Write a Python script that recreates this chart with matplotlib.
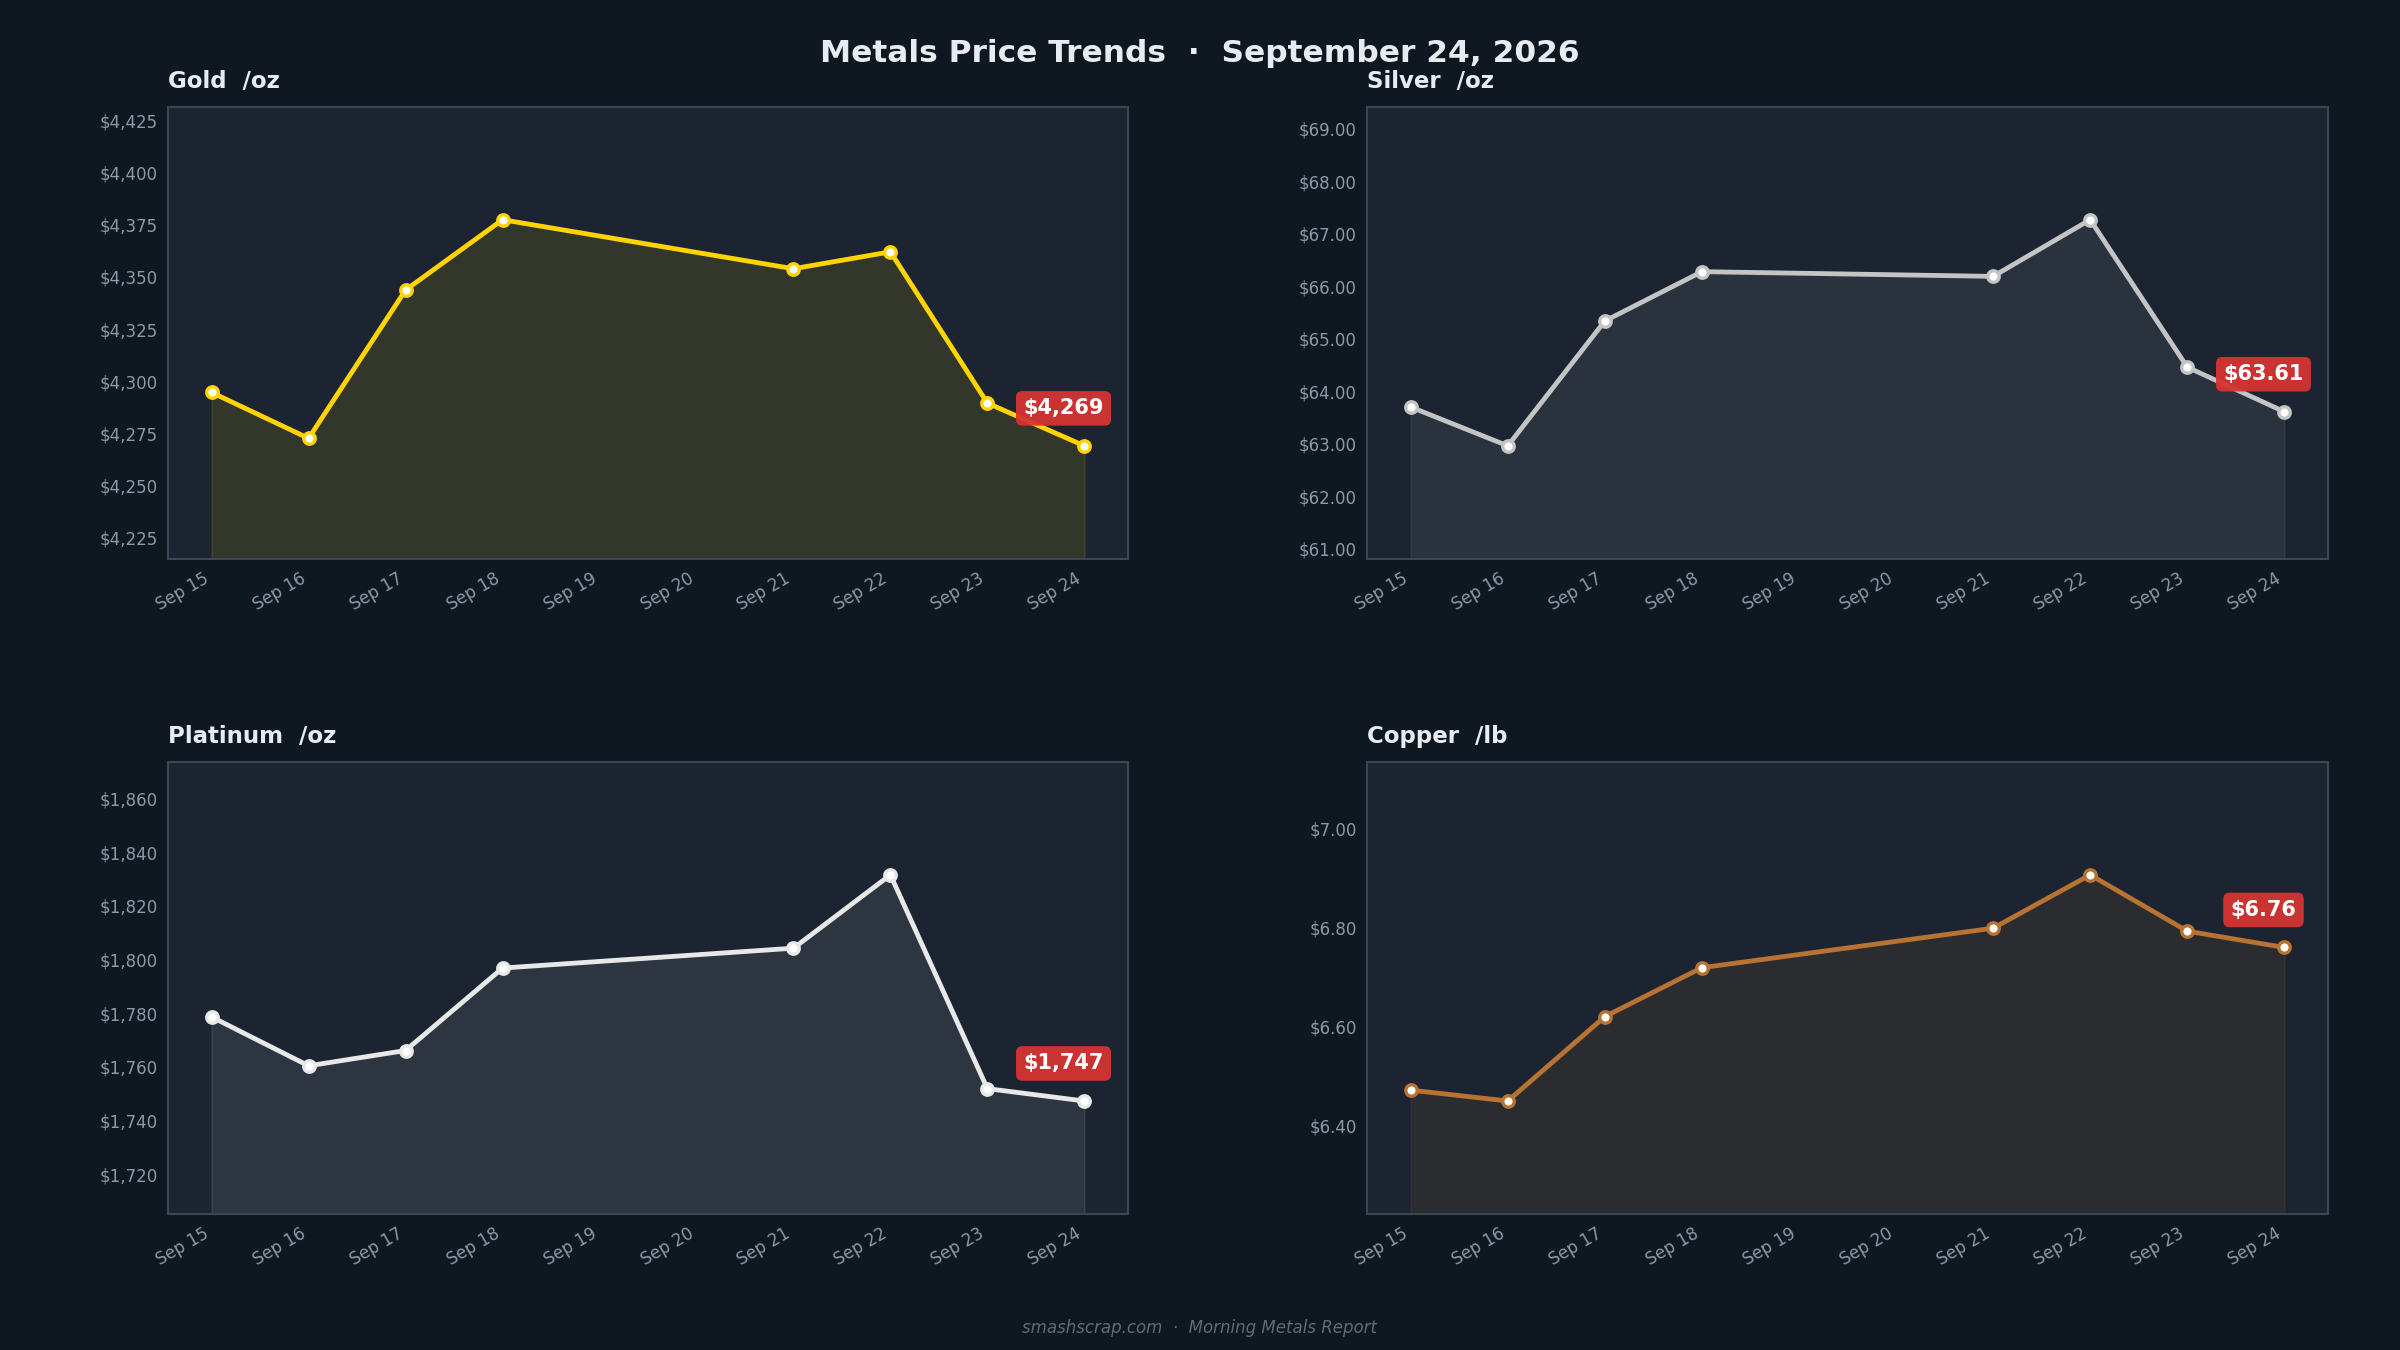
import datetime as dt

import matplotlib
matplotlib.use("Agg")
import matplotlib.pyplot as plt
import matplotlib.dates as mdates
from matplotlib.ticker import FuncFormatter

# trading days (weekend skipped)
dates = [dt.datetime(2026, 9, d) for d in (15, 16, 17, 18, 21, 22, 23, 24)]

gold = [4294.6, 4272.6, 4343.7, 4377.4, 4353.9, 4362.0, 4289.5, 4269.0]
silver = [63.70, 62.96, 65.34, 66.28, 66.19, 67.27, 64.46, 63.61]
platinum = [1778.6, 1760.4, 1766.1, 1796.8, 1804.2, 1831.5, 1751.9, 1747.3]
copper = [6.471, 6.449, 6.620, 6.719, 6.799, 6.907, 6.793, 6.76]

names = ["Gold  /oz", "Silver  /oz", "Platinum  /oz", "Copper  /lb"]
series = [gold, silver, platinum, copper]
line_colors = ["#FFD400", "#C4C4C4", "#E8E8E8", "#B87333"]
fill_alpha = [0.105, 0.09, 0.09, 0.10]
fmt_axis = ["${:,.0f}", "${:,.2f}", "${:,.0f}", "${:,.2f}"]
fmt_badge = ["${:,.0f}", "${:,.2f}", "${:,.0f}", "${:,.2f}"]

BG = "#0f1720"
PANEL = "#1b2430"
SPINE = "#3a4654"
TICK = "#8d99a6"
TEXT = "#e8ecf0"

fig = plt.figure(figsize=(16, 9), dpi=150, facecolor=BG)

boxes = [
    [0.070, 0.586, 0.400, 0.335],
    [0.5696, 0.586, 0.4004, 0.335],
    [0.070, 0.1007, 0.400, 0.335],
    [0.5696, 0.1007, 0.4004, 0.335],
]

for i in range(4):
    ax = fig.add_axes(boxes[i])
    ax.set_facecolor(PANEL)
    vals = series[i]
    c = line_colors[i]
    lo, hi = min(vals), max(vals)
    r = hi - lo
    ymin, ymax = lo - 0.5 * r, hi + 0.5 * r

    ax.fill_between(dates, vals, ymin, color=c, alpha=fill_alpha[i], lw=0.8)
    ax.plot(dates, vals, color=c, lw=2.3, marker="o", ms=5.5,
            mfc="white", mec=c, mew=1.6, zorder=3)

    ax.set_ylim(ymin, ymax)
    ax.set_xlim(dates[0] - dt.timedelta(hours=10.8), dates[-1] + dt.timedelta(hours=10.8))

    ax.xaxis.set_major_locator(mdates.DayLocator())
    ax.xaxis.set_major_formatter(mdates.DateFormatter("%b %d"))
    f = fmt_axis[i]
    ax.yaxis.set_major_formatter(FuncFormatter(lambda v, p, f=f: f.format(v)))

    ax.tick_params(axis="both", colors=TICK, labelsize=8, length=0, pad=5)
    for lab in ax.get_xticklabels():
        lab.set_rotation(30)
        lab.set_ha("right")

    for s in ax.spines.values():
        s.set_color(SPINE)
        s.set_linewidth(1.0)

    ax.set_title(names[i], loc="left", color=TEXT, fontsize=11,
                 fontweight="bold", pad=9)

    ax.annotate(fmt_badge[i].format(vals[-1]), xy=(dates[-1], vals[-1]),
                xytext=(-10, 18), textcoords="offset points",
                ha="center", va="center", color="white", fontsize=10,
                fontweight="bold", zorder=5,
                bbox=dict(boxstyle="round,pad=0.35,rounding_size=0.3",
                          fc="#d63333", ec="none", alpha=0.95))

fig.text(0.5, 0.96, "Metals Price Trends  \u00b7  September 24, 2026",
         ha="center", va="center", color=TEXT, fontsize=15, fontweight="bold")
fig.text(0.5, 0.016, "smashscrap.com  \u00b7  Morning Metals Report",
         ha="center", va="center", color="#5f6b78", fontsize=8, style="italic")

fig.savefig("out.png", dpi=150, facecolor=BG)
